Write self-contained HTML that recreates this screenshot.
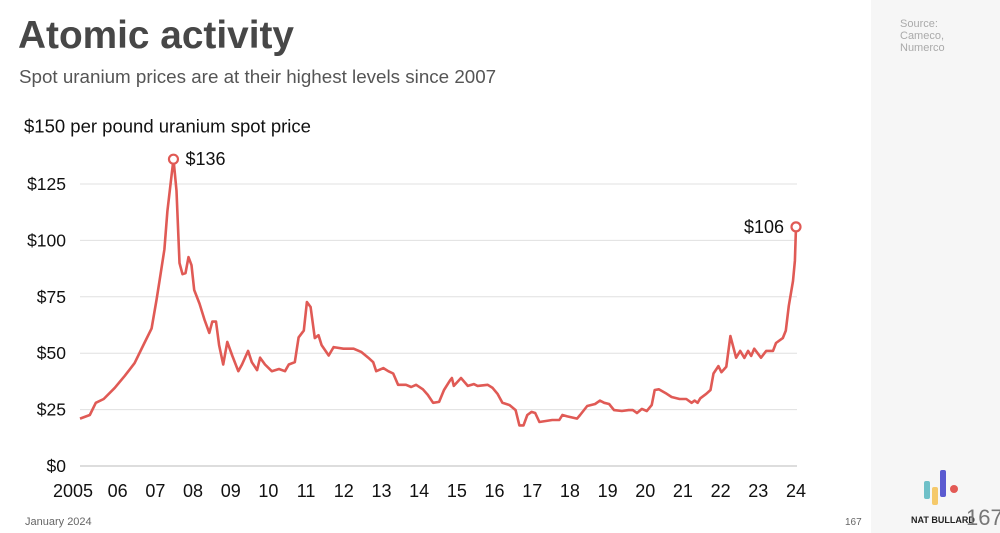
<!DOCTYPE html>
<html><head><meta charset="utf-8"><style>
body{margin:0;width:1000px;height:533px;overflow:hidden;background:#fff;font-family:"Liberation Sans",sans-serif;position:relative}
.abs{position:absolute;white-space:nowrap}
</style></head><body>
<div class="abs" style="left:871px;top:0;width:129px;height:533px;background:#f6f6f6"></div>
<div class="abs" style="left:18px;top:14px;font-size:38.8px;font-weight:bold;color:#474747">Atomic activity</div>
<div class="abs" style="left:19px;top:66px;font-size:18.8px;color:#555">Spot uranium prices are at their highest levels since 2007</div>
<div class="abs" style="left:900px;top:18px;font-size:11px;color:#aaa;line-height:12px;white-space:normal;width:80px">Source:<br>Cameco,<br>Numerco</div>
<div class="abs" style="left:25px;top:516px;font-size:11px;color:#666">January 2024</div>
<div class="abs" style="left:845px;top:517px;font-size:10px;color:#666">167</div>
<div class="abs" style="left:911px;top:515px;font-size:9px;font-weight:bold;color:#222">NAT BULLARD</div>
<div class="abs" style="left:966px;top:505px;font-size:22px;color:#777">167</div>
<svg class="abs" style="left:920px;top:460px" width="50" height="45">
<rect x="4" y="21" width="6" height="18" rx="2" fill="#6fc0c8"/><rect x="12" y="27" width="6" height="18" rx="2" fill="#f5c96a"/><rect x="20" y="10" width="6" height="27" rx="2" fill="#5a5ad0"/><circle cx="34" cy="29" r="4" fill="#e35a55"/></svg>
<svg id="chart" width="1000" height="533" style="position:absolute;left:0;top:0"></svg>
<script>
const years=[2005.00,2005.26,2005.42,2005.63,2005.92,2006.19,2006.45,2006.71,2006.90,2007.03,2007.11,2007.24,2007.32,2007.43,2007.48,2007.56,2007.64,2007.72,2007.80,2007.88,2007.96,2008.03,2008.17,2008.30,2008.43,2008.51,2008.61,2008.69,2008.80,2008.91,2009.04,2009.20,2009.30,2009.46,2009.56,2009.70,2009.78,2009.91,2010.09,2010.28,2010.44,2010.54,2010.70,2010.80,2010.94,2011.02,2011.12,2011.23,2011.33,2011.41,2011.60,2011.73,2011.99,2012.26,2012.47,2012.65,2012.78,2012.86,2013.05,2013.18,2013.31,2013.44,2013.65,2013.79,2013.92,2014.10,2014.23,2014.37,2014.53,2014.66,2014.82,2014.87,2014.92,2015.11,2015.29,2015.45,2015.55,2015.82,2015.95,2016.08,2016.21,2016.40,2016.56,2016.66,2016.77,2016.87,2016.98,2017.08,2017.19,2017.53,2017.72,2017.80,2017.93,2018.19,2018.27,2018.46,2018.67,2018.80,2018.91,2019.04,2019.17,2019.38,2019.56,2019.67,2019.78,2019.91,2020.04,2020.17,2020.25,2020.36,2020.57,2020.70,2020.91,2021.09,2021.23,2021.31,2021.39,2021.46,2021.62,2021.73,2021.81,2021.94,2022.02,2022.15,2022.26,2022.41,2022.52,2022.63,2022.73,2022.81,2022.89,2023.07,2023.21,2023.39,2023.47,2023.65,2023.73,2023.81,2023.92,2023.97,2024.0];
const prices=[21,22.6,28,29.7,34.6,40,45.6,54.5,61,73.6,82,96,113,129,136,122,90,85,85.5,92.6,89,78,72,65,59,64,64,53.6,45,55,49,42,45,51,46,42.5,48,45,42,43,42,45,46,57,60,72.7,70.5,56.7,58,53.6,49,52.7,52,52,50.5,48,46,42,43.4,42,41,36,36,35,36,34,31.5,28,28.4,33.7,38,39,35.5,39,35.5,36.3,35.5,36,34.6,32,28,27,24.8,18,18,22.6,24,23.5,19.5,20.4,20.4,22.6,22,21,22.6,26.6,27.5,29,28,27.5,24.8,24.4,24.8,24.8,23.5,25.3,24.4,27,33.7,34,32,30.6,29.7,29.7,28,29,28,30,32,33.7,41,44.3,41.6,44,57.6,48,51,47.9,51,48.8,52,48,51,51,54.5,56.7,60,71,82,91,106];
const yTicks=[0,25,50,75,100,125];
const xTickYears=[2005,2006,2007,2008,2009,2010,2011,2012,2013,2014,2015,2016,2017,2018,2019,2020,2021,2022,2023,2024];
const xTickLabels=["2005","06","07","08","09","10","11","12","13","14","15","16","17","18","19","20","21","22","23","24"];
const NS="http://www.w3.org/2000/svg",svg=document.getElementById('chart');
const X=v=>80+(v-2005)*(716/19), Y=v=>466-v*(282/125);
function mk(t,a,p){const e=document.createElementNS(NS,t);for(const k in a)e.setAttribute(k,a[k]);(p||svg).appendChild(e);return e;}
yTicks.forEach(t=>{
 const g=mk('line',{x1:80,x2:797,y1:Y(t),y2:Y(t),stroke:t===0?'#bbb':'#e0e0e0','stroke-width':1});
 
 
 const l=mk('text',{x:66,y:Y(t)+6,'text-anchor':'end','font-size':17.5,fill:'#111'});l.textContent='$'+t;
 
 
});
const axisTitle=mk('text',{x:24,y:Y(150)+5,'font-size':18.5,fill:'#111'});axisTitle.textContent='$150 per pound uranium spot price';


xTickYears.forEach((y,i)=>{
 const l=mk('text',{x:X(y)+(i===0?-7:0),y:497,'text-anchor':'middle','font-size':18,fill:'#111'});l.textContent=xTickLabels[i];
 
 
});
const pricePath=mk('path',{d:years.map((y,i)=>(i?'L':'M')+X(y).toFixed(1)+','+Y(prices[i]).toFixed(1)).join(''),fill:'none',stroke:'#e05a55','stroke-width':2.6,'stroke-linejoin':'round'});


const maxIdx=prices.indexOf(Math.max(...prices)),lastIdx=prices.length-1;
[[maxIdx,'start',12],[lastIdx,'end',-12]].forEach(([i,anc,dx])=>{
 const c=mk('circle',{cx:X(years[i]),cy:Y(prices[i]),r:4.5,fill:'#fff',stroke:'#e05a55','stroke-width':2.2});
 
 
 const t=mk('text',{x:X(years[i])+dx,y:Y(prices[i])+6,'text-anchor':anc,'font-size':18,fill:'#111'});t.textContent='$'+Math.round(prices[i]);
 
 
});
</script>
</body></html>
